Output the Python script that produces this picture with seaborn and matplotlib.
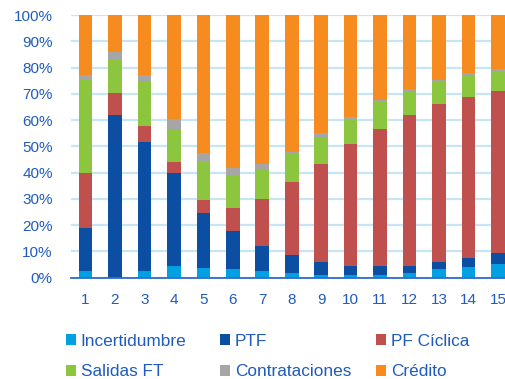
import numpy as np
import pandas as pd
import matplotlib
matplotlib.use("Agg")
import matplotlib.pyplot as plt
from matplotlib.patches import Patch
import seaborn as sns

# Shares (%) of each component per period
periods = [str(i) for i in range(1, 16)]
incertidumbre = [2.5, 0.0, 2.5, 4.6, 3.8, 3.3, 2.5, 1.8, 1.0, 1.0, 1.0, 1.8, 3.3, 3.9, 5.3]
ptf = [16.5, 61.9, 49.1, 35.2, 20.9, 14.6, 9.7, 6.8, 5.0, 3.6, 3.6, 2.8, 2.7, 3.6, 4.1]
pf_ciclica = [20.8, 8.3, 6.3, 4.2, 4.9, 8.7, 17.9, 27.7, 37.4, 46.3, 51.9, 57.3, 60.1, 61.3, 61.5]
salidas_ft = [35.8, 13.0, 17.1, 12.6, 14.6, 12.5, 11.1, 11.2, 10.3, 9.6, 10.4, 9.2, 8.9, 8.4, 7.8]
contrataciones = [1.6, 2.8, 2.0, 3.8, 3.1, 2.8, 2.1, 0.5, 1.4, 0.8, 0.7, 0.6, 0.3, 0.7, 0.7]
credito = [22.8, 14.0, 23.0, 39.6, 52.7, 58.1, 56.7, 52.0, 44.9, 38.7, 32.4, 28.3, 24.7, 22.1, 20.6]

series_names = ["Incertidumbre", "PTF", "PF Cíclica", "Salidas FT", "Contrataciones", "Crédito"]
series_values = [incertidumbre, ptf, pf_ciclica, salidas_ft, contrataciones, credito]
colors = ["#00A0E3", "#0B4EA2", "#C0504D", "#8CC63E", "#A6A6A6", "#F68B1F"]

text_blue = "#1F5BBE"

sns.set_theme(style="white")
plt.rcParams["font.family"] = ["Liberation Sans", "DejaVu Sans"]

fig = plt.figure(figsize=(5.06, 3.79), dpi=100)
ax = fig.add_axes([0.1397, 0.2673, 0.8737, 0.6931])

# Stacked bars: draw cumulative totals from the top layer downwards
cum = np.cumsum(np.array(series_values), axis=0)
for name, top, color in reversed(list(zip(series_names, cum, colors))):
    df = pd.DataFrame({"period": periods, "value": top})
    sns.barplot(data=df, x="period", y="value", color=color, width=0.46,
                saturation=1, ax=ax, zorder=3, linewidth=0)

ax.set_ylim(0, 100)
ax.set_xlim(-0.5, len(periods) - 0.5)
ax.set_yticks(np.arange(0, 101, 10))
ax.set_yticklabels([f"{v}%" for v in range(0, 101, 10)])
ax.yaxis.grid(True, color="#C6E6F6", linewidth=1.6, zorder=0)
ax.set_axisbelow(True)
ax.set_xlabel("")
ax.set_ylabel("")

for side in ["top", "right", "left"]:
    ax.spines[side].set_visible(False)
ax.spines["bottom"].set_color("#2F6CC8")
ax.spines["bottom"].set_linewidth(1.3)
ax.spines["bottom"].set_zorder(4)

ax.tick_params(axis="y", length=0, pad=13, labelsize=11, labelcolor=text_blue)
ax.tick_params(axis="x", which="major", length=0, pad=11, labelsize=11, labelcolor=text_blue)
ax.set_xticks(np.arange(-0.5, len(periods), 1.0), minor=True)
ax.tick_params(axis="x", which="minor", length=4, width=1.3, color="#2F6CC8", direction="out")

# Legend laid out in three columns of two entries
handles = [Patch(facecolor=c, edgecolor="none") for c in colors]
col_x = [66, 220, 376]
for j, x in enumerate(col_x):
    idx = [j, j + 3]
    leg = fig.legend([handles[i] for i in idx], [series_names[i] for i in idx],
                     loc="upper left", bbox_to_anchor=(x / 506, 1 - 334 / 379),
                     frameon=False, fontsize=12.4, handlelength=0.6, handleheight=0.6,
                     handletextpad=0.25, labelspacing=0.9, borderpad=0, borderaxespad=0)
    for t in leg.get_texts():
        t.set_color(text_blue)

fig.savefig("out.png", dpi=100)
